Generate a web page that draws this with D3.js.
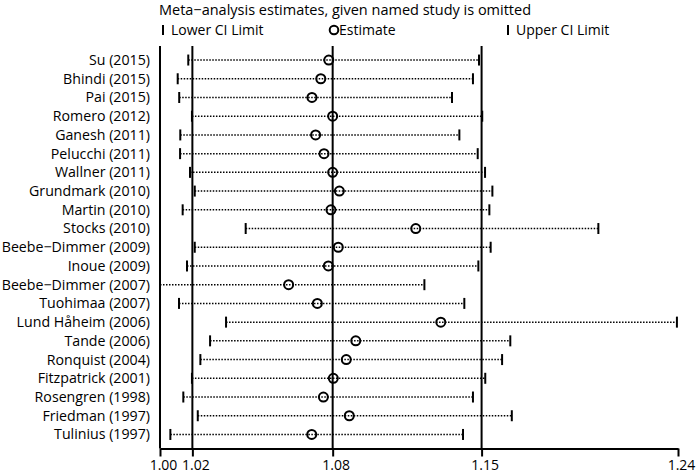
<!DOCTYPE html>
<html>
<head>
<meta charset="utf-8">
<script src="https://cdn.jsdelivr.net/npm/d3@7"></script>
<style>
  body { margin: 0; background: #fff; }
  text { font-family: "Open Sans", sans-serif; fill: #000; }
</style>
</head>
<body>
<div id="chart"></div>
<script>
// studies, top to bottom
const studies = ["Su (2015)", "Bhindi (2015)", "Pai (2015)", "Romero (2012)", "Ganesh (2011)",
    "Pelucchi (2011)", "Wallner (2011)", "Grundmark (2010)", "Martin (2010)", "Stocks (2010)",
    "Beebe\u2212Dimmer (2009)", "Inoue (2009)", "Beebe\u2212Dimmer (2007)", "Tuohimaa (2007)",
    "Lund H\u00e5heim (2006)", "Tande (2006)", "Ronquist (2004)", "Fitzpatrick (2001)",
    "Rosengren (1998)", "Friedman (1997)", "Tulinius (1997)"];
const estimates = [1.0782, 1.0745, 1.0704, 1.0800, 1.0721, 1.0760, 1.0800, 1.0831, 1.0792, 1.1185,
    1.0826, 1.0780, 1.0596, 1.0729, 1.1301, 1.0907, 1.0863, 1.0803, 1.0757, 1.0877, 1.0703];
const lowerCI = [1.0131, 1.0082, 1.0089, 1.0148, 1.0094, 1.0093, 1.0139, 1.0161, 1.0105, 1.0397,
    1.0161, 1.0125, 1.0000, 1.0088, 1.0306, 1.0232, 1.0187, 1.0148, 1.0108, 1.0175, 1.0048];
const upperCI = [1.1478, 1.1450, 1.1353, 1.1493, 1.1387, 1.1472, 1.1506, 1.1540, 1.1526, 1.2031,
    1.1532, 1.1475, 1.1225, 1.1410, 1.2395, 1.1623, 1.1585, 1.1507, 1.1450, 1.1630, 1.1404];
// pooled result with all studies
const overall = [1.015, 1.080, 1.149];
const axisTicks = [1.00, 1.015, 1.080, 1.149, 1.24];
const tickLabels = ["1.00", "1.02", "1.08", "1.15", "1.24"];

function influencePlot()
{
    const width = 697, height = 475;
    const margin = ({top: 46, right: 19, bottom: 26.5, left: 160});
    const xScale = d3.scaleLinear([1.00, 1.24], [margin.left, width - margin.right]);
    const yScale = d3.scalePoint(studies, [margin.top, height - margin.bottom]).padding(0.75);
    const yBottom = height - margin.bottom;

    const svg = d3.select("#chart").append("svg")
        .attr("width", width)
        .attr("height", height);

    // title
    svg.append("text")
        .attr("x", 345)
        .attr("y", 15)
        .attr("text-anchor", "middle")
        .attr("font-size", 14.5)
        .text("Meta\u2212analysis estimates, given named study is omitted");

    // legend
    const legend = svg.append("g").attr("font-size", 14);
    const legItems = [
        {x: 163, kind: "tick", label: "Lower CI Limit"},
        {x: 334, kind: "circle", label: "Estimate"},
        {x: 508, kind: "tick", label: "Upper CI Limit"}];
    legItems.forEach(d => {
        if (d.kind == "tick")
        {
            legend.append("line")
                .attr("x1", d.x).attr("x2", d.x)
                .attr("y1", 25).attr("y2", 35)
                .attr("stroke", "#000").attr("stroke-width", 2);
        }
        else
        {
            legend.append("circle")
                .attr("cx", d.x).attr("cy", 30).attr("r", 4.3)
                .attr("fill", "none").attr("stroke", "#000").attr("stroke-width", 2);
        }
        legend.append("text")
            .attr("x", d.x + (d.kind == "tick" ? 8 : 5))
            .attr("y", 35)
            .text(d.label);
    });

    // reference lines: y axis at 1.00 and pooled CI / estimate
    svg.append("g")
        .selectAll("line")
        .data([1.00].concat(overall))
        .join("line")
        .attr("x1", d => xScale(d)).attr("x2", d => xScale(d))
        .attr("y1", margin.top).attr("y2", yBottom)
        .attr("stroke", "#000").attr("stroke-width", 2);

    // study labels
    svg.append("g")
        .attr("font-size", 14.2)
        .attr("text-anchor", "end")
        .selectAll("text")
        .data(studies)
        .join("text")
        .attr("x", 150)
        .attr("y", d => yScale(d))
        .attr("dy", "0.35em")
        .text(d => d);

    // dotted CI lines
    svg.append("g")
        .selectAll("line")
        .data(studies)
        .join("line")
        .attr("x1", (d, i) => xScale(lowerCI[i]))
        .attr("x2", (d, i) => xScale(upperCI[i]))
        .attr("y1", d => yScale(d)).attr("y2", d => yScale(d))
        .attr("stroke", "#000").attr("stroke-width", 1.5)
        .attr("stroke-dasharray", "1.5,1.5");

    // CI ends
    const ends = svg.append("g").attr("stroke", "#000").attr("stroke-width", 2);
    [lowerCI, upperCI].forEach(arr => {
        ends.append("g")
            .selectAll("line")
            .data(studies)
            .join("line")
            .attr("x1", (d, i) => xScale(arr[i]))
            .attr("x2", (d, i) => xScale(arr[i]))
            .attr("y1", d => yScale(d) - 5.5)
            .attr("y2", d => yScale(d) + 5.5);
    });

    // estimates
    svg.append("g")
        .selectAll("circle")
        .data(studies)
        .join("circle")
        .attr("cx", (d, i) => xScale(estimates[i]))
        .attr("cy", d => yScale(d))
        .attr("r", 4.5)
        .attr("fill", "none")
        .attr("stroke", "#000")
        .attr("stroke-width", 2);

    // x axis
    const xAxis = d3.axisBottom(xScale)
        .tickValues(axisTicks)
        .tickFormat((d, i) => tickLabels[i])
        .tickSize(8)
        .tickSizeOuter(0);
    svg.append("g")
        .attr("transform", `translate(0,${yBottom})`)
        .call(xAxis)
        .call(g => g.select(".domain").attr("stroke-width", 2))
        .call(g => g.selectAll(".tick line").attr("stroke-width", 2))
        .call(g => g.selectAll(".tick text")
            .attr("font-family", "Open Sans, sans-serif")
            .attr("font-size", 14)
            .attr("dx", 3)
            .attr("y", 12));
}

influencePlot();
</script>
</body>
</html>
